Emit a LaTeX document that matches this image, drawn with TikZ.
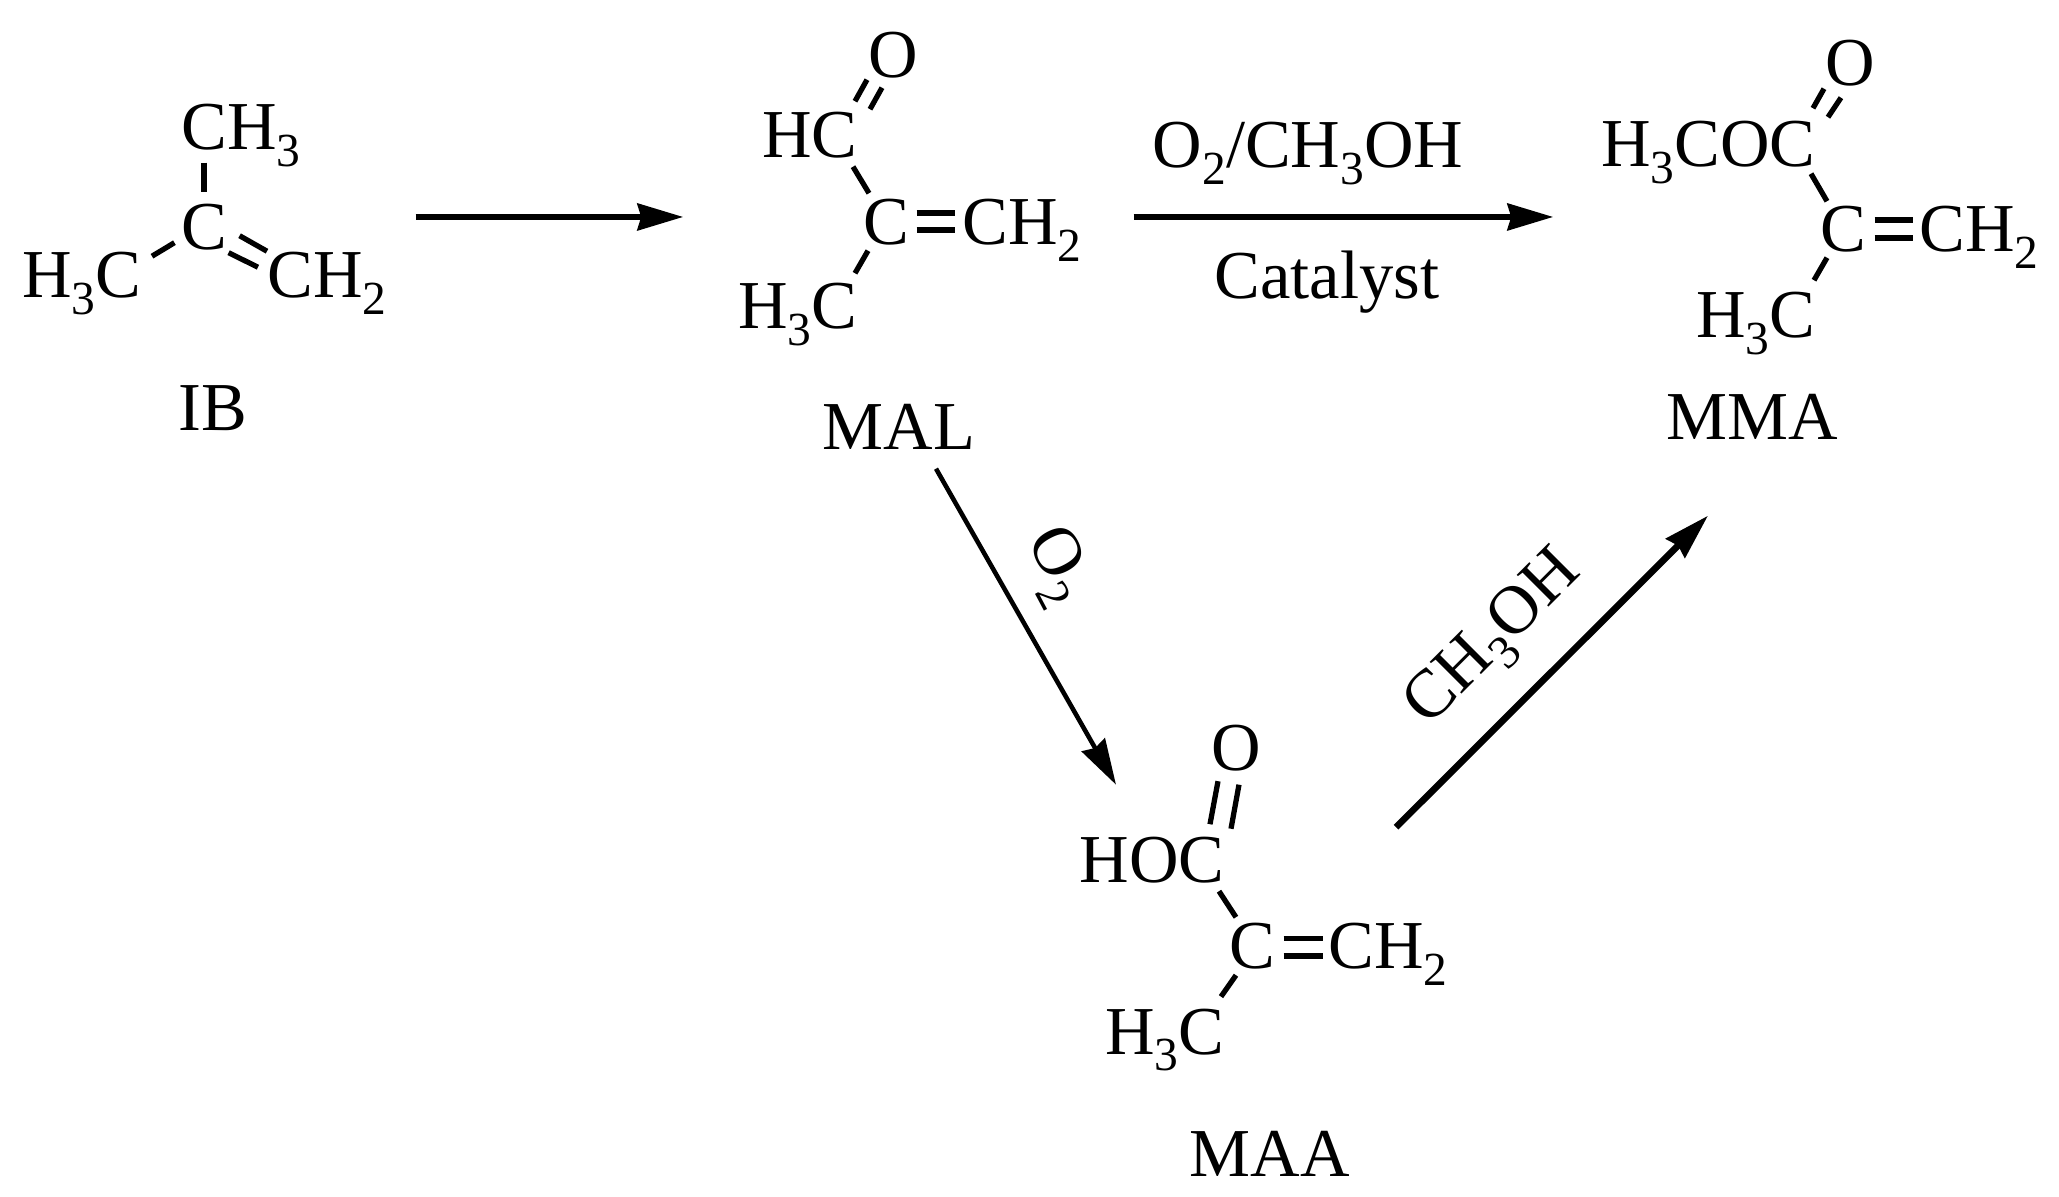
\documentclass[tikz,border=0pt]{standalone}
\usepackage{fontspec}
\setmainfont{Liberation Serif}
\usetikzlibrary{arrows.meta,calc}
\newcommand{\lowr}[1]{\raisebox{-4.8pt}{\fontsize{13.5}{14}\selectfont #1}}
\tikzset{
atom/.style={inner sep=0pt,text height=13.1pt,text depth=0pt,font=\fontsize{19.5}{24}\selectfont},
bond/.style={line width=1.5pt},
rxn/.style={line width=1.9pt,-{Stealth[length=13pt,width=7.5pt,inset=1pt]}},
rxnthin/.style={line width=1.3pt,-{Stealth[length=13pt,width=7.5pt,inset=1pt]}}
}
\begin{document}
\begin{tikzpicture}[x=0.01cm,y=-0.01cm]
\useasboundingbox(0,0)rectangle(2059,1197);
% isobutene
\node[atom,anchor=base](ibC)at(204,250){C};
\node[atom,anchor=base west](ibme)at(181,150){CH\lowr{3}};
\node[atom,anchor=base east](ibmeth)at(142,298){H\lowr{3}C};
\node[atom,anchor=base west](ibCH)at(267,298){CH\lowr{2}};
\node[atom,anchor=base](iblab)at(213,431){IB};
\draw[bond]($(ibme.south west)+(23,12)$)--($(ibC.north)+(0,-11)$);
\draw[bond]($(ibC.south west)+(-6,-8)$)--($(ibmeth.north east)+(10,5)$);
\draw[bond]($(ibC.south east)+(12,-15)$)--(ibCH.north west)
($(ibC.south east)+(1,2)$)--($(ibCH.north west)+(-9,16)$);
% methacrolein
\node[atom,anchor=base](malO)at(893,78){O};
\node[atom,anchor=base east](malHC)at(858,158){HC};
\node[atom,anchor=base](malC)at(886,245){C};
\node[atom,anchor=base west](malCH)at(962,245){CH\lowr{2}};
\node[atom,anchor=base east](malme)at(858,329){H\lowr{3}C};
\node[atom,anchor=base](mallab)at(899,449){MAL};
\draw[bond]($(malO.south)+(-26,1)$)--($(malHC.north east)+(-3,-10)$)
($(malO.south)+(-11,9)$)--($(malHC.north east)+(12,-2)$);
\draw[bond]($(malHC.south east)+(-5,8)$)--($(malC.north)+(-17,-5)$);
\draw[bond]($(malC.south)+(-18,5)$)--($(malme.north east)+(-3,-9)$);
\draw[bond]($(malC.east)+(7,-9)$)--($(malCH.west)+(-7,-9)$)
($(malC.east)+(7,8)$)--($(malCH.west)+(-7,8)$);
% methyl methacrylate
\node[atom,anchor=base](mmaO)at(1850,86){O};
\node[atom,anchor=base east](mmaest)at(1816,167){H\lowr{3}COC};
\node[atom,anchor=base](mmaC)at(1843,252){C};
\node[atom,anchor=base west](mmaCH)at(1919,252){CH\lowr{2}};
\node[atom,anchor=base east](mmame)at(1816,338){H\lowr{3}C};
\node[atom,anchor=base](mmalab)at(1752,440){MMA};
\draw[bond]($(mmaO.south)+(-26,2)$)--($(mmaest.north east)+(-3,-12)$)
($(mmaO.south)+(-9,11)$)--($(mmaest.north east)+(12,-3)$);
\draw[bond]($(mmaest.south east)+(-5,6)$)--($(mmaC.north)+(-16,-4)$);
\draw[bond]($(mmaC.south)+(-16,5)$)--($(mmame.north east)+(-2,-11)$);
\draw[bond]($(mmaC.east)+(8,-9)$)--($(mmaCH.west)+(-6,-9)$)
($(mmaC.east)+(8,9)$)--($(mmaCH.west)+(-6,9)$);
% methacrylic acid
\node[atom,anchor=base](maaO)at(1236,771){O};
\node[atom,anchor=base east](maaHOC)at(1225,883){HOC};
\node[atom,anchor=base](maaC)at(1252,968.5){C};
\node[atom,anchor=base west](maaCH)at(1328,968.5){CH\lowr{2}};
\node[atom,anchor=base east](maame)at(1225,1054){H\lowr{3}C};
\node[atom,anchor=base](maalab)at(1270,1176){MAA};
\draw[bond]($(maaO.south)+(-18,9.5)$)--($(maaHOC.north east)+(-15,-12)$)
($(maaO.south)+(3,13)$)--($(maaHOC.north east)+(6,-7.5)$);
\draw[bond]($(maaHOC.south east)+(-6,7.5)$)--($(maaC.north)+(-16,-4.5)$);
\draw[bond]($(maaC.south)+(-16,6)$)--($(maame.north east)+(-4,-10.6)$);
\draw[bond]($(maaC.east)+(8,-7)$)--($(maaCH.west)+(-5,-7)$)
($(maaC.east)+(8,10.5)$)--($(maaCH.west)+(-5,10.5)$);
% reaction arrows
\draw[rxn]($(ibC.east)+(188,-10)$)--($(malC.west)+(-179,-5)$);
\draw[rxn]($(malC.east)+(224,-5)$)--($(mmaC.west)+(-266,-12)$);
\draw[rxnthin]($(mallab.south)+(37,19)$)--($(maaO.south)+(-120,13)$);
\draw[rxn]($(maaCH.north west)+(68,-94.5)$)--($(mmalab.south)+(-44,75)$);
\node[atom,anchor=base](top)at(1308,168){O\lowr{2}/CH\lowr{3}OH};
\node[atom,anchor=base](cat)at(1327,299){Catalyst};
\node[atom,rotate=-62](oxy)at(1064,562){O\lowr{2}};
\node[atom,rotate=45](meoh)at(1489,634){CH\lowr{3}OH};
\end{tikzpicture}
\end{document}
